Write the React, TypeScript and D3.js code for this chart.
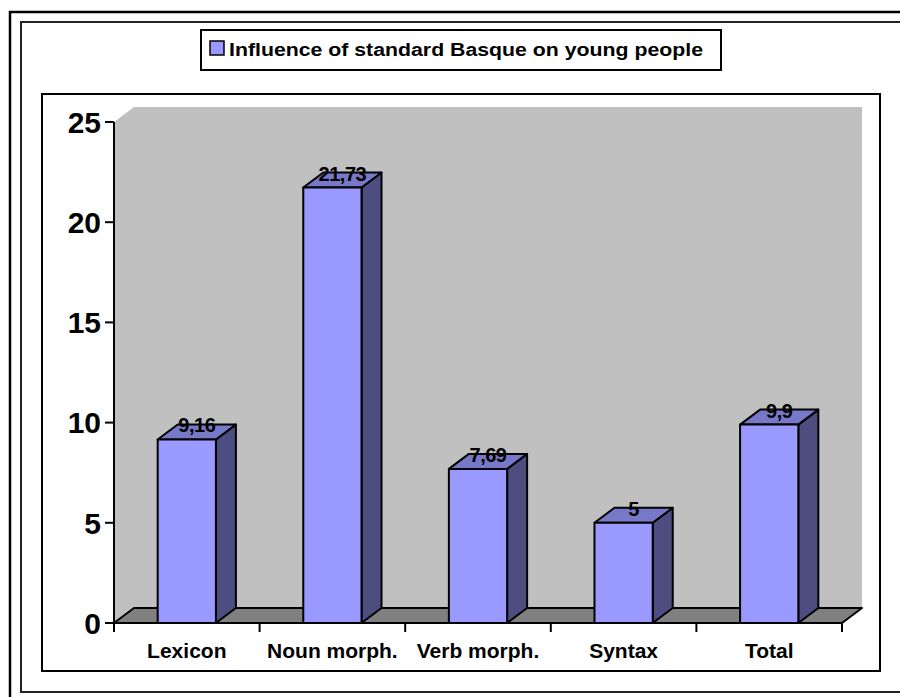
import * as d3 from 'd3'

const categories = ['Lexicon', 'Noun morph.', 'Verb morph.', 'Syntax', 'Total']
const values = [9.16, 21.73, 7.69, 5, 9.9]
const valueLabels = ['9,16', '21,73', '7,69', '5', '9,9']
const yTicks = [0, 5, 10, 15, 20, 25]
const legendLabel = 'Influence of standard Basque on young people'

const width = 900
const height = 697
const depthX = 20
const depthY = -15
const font = 'Arial, "Liberation Sans", sans-serif'

export default function App() {
  const x = d3.scaleBand<string>().domain(categories).range([114, 842])
  const y = d3.scaleLinear().domain([0, 25]).range([623, 122])
  const barW = x.bandwidth() * 0.4

  const x0 = x.range()[0]
  const x1 = x.range()[1]
  const yTop = y(25)
  const yBase = y(0)

  const poly = (pts: [number, number][]) => 'M' + pts.map((p) => p.join(',')).join('L') + 'Z'

  return (
    <svg
      width={width}
      height={height}
      style={{ position: 'absolute', left: 0, top: 0, background: '#fff' }}
      fontFamily={font}
    >
      {/* frames */}
      <path d={`M10,${height}V12H${width}`} fill="none" stroke="#000" strokeWidth={2.5} />
      <path d={`M${width},22H21V692H${width}`} fill="none" stroke="#222" strokeWidth={2} />
      <rect x={42} y={94} width={838} height={577} fill="none" stroke="#000" strokeWidth={2} />

      {/* legend */}
      <rect x={201} y={30} width={520} height={40} fill="#fff" stroke="#000" strokeWidth={2} />
      <rect x={210} y={41} width={14} height={14} fill="#9999ff" stroke="#000" strokeWidth={1.5} />
      <text
        x={229}
        y={55.5}
        fontSize={18}
        fontWeight="bold"
        textLength={474}
        lengthAdjust="spacingAndGlyphs"
      >
        {legendLabel}
      </text>

      {/* walls */}
      <path
        d={poly([
          [x0, yTop],
          [x0 + depthX, yTop + depthY],
          [x0 + depthX, yBase + depthY],
          [x0, yBase],
        ])}
        fill="#c0c0c0"
      />
      <path
        d={poly([
          [x0 + depthX, yTop + depthY],
          [x1 + depthX, yTop + depthY],
          [x1 + depthX, yBase + depthY],
          [x0 + depthX, yBase + depthY],
        ])}
        fill="#c0c0c0"
      />
      {/* floor */}
      <path
        d={poly([
          [x0, yBase],
          [x0 + depthX, yBase + depthY],
          [x1 + depthX, yBase + depthY],
          [x1, yBase],
        ])}
        fill="#808080"
        stroke="#000"
        strokeWidth={2}
        strokeLinejoin="round"
      />

      {/* bars */}
      <g stroke="#000" strokeWidth={2} strokeLinejoin="round">
        {categories.map((c, i) => {
          const bx = (x(c) ?? 0) + (x.bandwidth() - barW) / 2
          const top = y(values[i])
          return (
            <g key={c}>
              <path
                d={poly([
                  [bx + barW, top],
                  [bx + barW + depthX, top + depthY],
                  [bx + barW + depthX, yBase + depthY],
                  [bx + barW, yBase],
                ])}
                fill="#4d4d80"
              />
              <path
                d={poly([
                  [bx, top],
                  [bx + depthX, top + depthY],
                  [bx + barW + depthX, top + depthY],
                  [bx + barW, top],
                ])}
                fill="#7878c8"
              />
              <rect x={bx} y={top} width={barW} height={yBase - top} fill="#9999ff" />
            </g>
          )
        })}
      </g>

      {/* value labels */}
      <g fontSize={20} fontWeight="bold" textAnchor="middle" fill="#000">
        {categories.map((c, i) => (
          <text
            key={c}
            x={(x(c) ?? 0) + x.bandwidth() / 2 + depthX / 2}
            y={y(values[i]) - 7}
            letterSpacing={-0.5}
          >
            {valueLabels[i]}
          </text>
        ))}
      </g>

      {/* y axis */}
      <line x1={x0} x2={x0} y1={yTop} y2={yBase} stroke="#000" strokeWidth={2} />
      <g fontSize={30} fontWeight="bold" textAnchor="end">
        {yTicks.map((t) => (
          <g key={t}>
            <line x1={x0 - 9} x2={x0} y1={y(t)} y2={y(t)} stroke="#000" strokeWidth={2} />
            <text x={101} y={y(t)} dy="0.36em">
              {t}
            </text>
          </g>
        ))}
      </g>

      {/* x axis */}
      <line x1={x0} x2={x1} y1={yBase} y2={yBase} stroke="#000" strokeWidth={2} />
      {[...categories.map((c) => x(c) ?? 0), x1].map((tx, i) => (
        <line key={i} x1={tx} x2={tx} y1={yBase} y2={yBase + 9} stroke="#000" strokeWidth={2} />
      ))}
      <g fontSize={21} fontWeight="bold" textAnchor="middle">
        {categories.map((c) => (
          <text key={c} x={(x(c) ?? 0) + x.bandwidth() / 2} y={658}>
            {c}
          </text>
        ))}
      </g>
    </svg>
  )
}
